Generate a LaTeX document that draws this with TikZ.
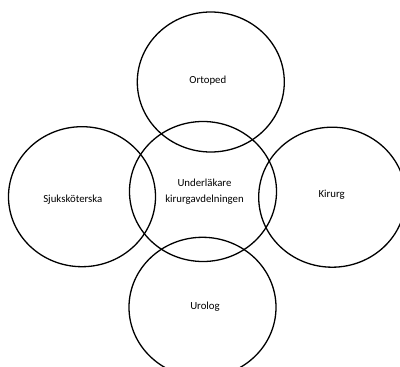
\documentclass[tikz,border=0pt]{standalone}
\usepackage{fontspec}
\setmainfont{Carlito}
\usepackage{tikz}
\usetikzlibrary{shapes.geometric}

\begin{document}
\begin{tikzpicture}[x=1pt,y=-1pt,
  role/.style={draw,ellipse,line width=1.3pt,minimum width=147pt,minimum height=140pt,inner sep=0pt},
  lbl/.style={font=\fontsize{10.8}{15.5}\selectfont,align=center,inner sep=1pt}]
\useasboundingbox (0,0) rectangle (400,367);
\clip (0,0) rectangle (400,367);
% circles
\node[role] (ortoped) at (210.8,82) {};
\node[role] (under) at (203,191.5) {};
\node[role] (sjuk) at (82,196.7) {};
\node[role] (kirurg) at (332.2,197.2) {};
\node[role] (urolog) at (202.5,307.3) {};
% texts
\node[lbl] (tOrt) at (207.8,81) {Ortoped};
\node[lbl] (tUnd) at (204.5,191.5) {Underläkare\\kirurgavdelningen};
\node[lbl] (tSju) at (72.8,200) {Sjuksköterska};
\node[lbl] (tKir) at (331.7,195) {Kirurg};
\node[lbl] (tUro) at (205,307) {Urolog};
\end{tikzpicture}
\end{document}
